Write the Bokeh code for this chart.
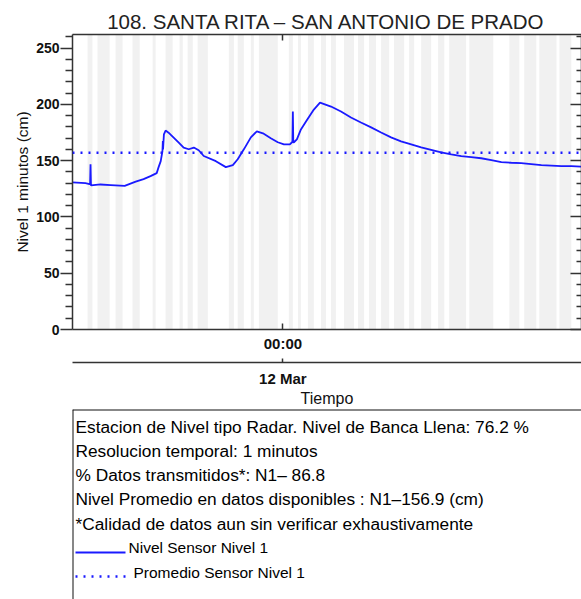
from bokeh.plotting import figure
from bokeh.models import Range1d, LinearAxis, FixedTicker, Span
from bokeh.layouts import column
from bokeh.embed import file_html
from bokeh.resources import INLINE
from bokeh.core.properties import value

# ---------------- data ----------------
title_text = "108. SANTA RITA \u2013 SAN ANTONIO DE PRADO"
y_label = "Nivel 1 minutos (cm)"
x_label = "Tiempo"

# hours relative to 12 Mar 00:00
hours = [-9.92, -9.31, -9.12, -9.09, -9.07, -9.05, -8.60, -8.12, -7.46, -6.94,
         -6.57, -6.24, -5.95, -5.86, -5.76, -5.68, -5.66, -5.65, -5.61, -5.53,
         -5.39, -5.15, -4.91, -4.68, -4.44, -4.20, -3.97, -3.73, -3.16, -2.69,
         -2.36, -2.13, -1.84, -1.51, -1.23, -0.94, -0.57, -0.24, 0.05, 0.33,
         0.43, 0.45, 0.47, 0.49, 0.52, 0.66, 0.85, 1.09, 1.46, 1.75,
         2.27, 2.74, 3.21, 3.68, 4.16, 4.63, 5.10, 5.57, 6.05, 6.52,
         6.99, 7.46, 7.94, 8.41, 8.88, 9.35, 9.83, 10.30, 10.77, 11.24,
         11.71, 12.19, 12.66, 13.13, 13.60, 14.08]
level = [130.7, 130.0, 129.2, 129.0, 146.8, 128.0, 128.8, 128.3, 127.6, 131.3,
         133.6, 136.2, 138.9, 144.2, 149.5, 158.3, 167.4, 160.0, 173.3, 176.7,
         174.8, 170.4, 166.0, 161.6, 160.1, 161.6, 159.2, 154.1, 149.5, 144.2,
         146.0, 151.2, 160.0, 170.6, 176.0, 174.2, 169.8, 166.3, 164.5, 164.5,
         166.3, 166.3, 193.6, 166.3, 166.3, 168.9, 177.7, 184.7, 195.3, 201.5,
         198.0, 193.6, 188.3, 183.9, 179.5, 175.0, 170.6, 167.1, 164.5, 161.8,
         159.6, 157.4, 155.6, 153.9, 153.0, 152.1, 150.4, 148.6, 148.1, 147.7,
         146.8, 145.9, 145.5, 145.1, 145.1, 144.6]
mean_level = 156.9

# periods without transmitted data (hours relative to 12 Mar 00:00)
gap_start = [-9.21, -8.74, -7.89, -7.09, -6.14, -5.53, -4.87, -4.49, -4.02, -2.55,
             -2.13, -1.51, -1.13, 0.28, 0.71, 1.18, 1.80, 2.27, 2.88, 3.54,
             4.06, 4.63, 5.24, 5.95, 6.52, 7.32, 7.84, 8.79, 10.68, 11.38,
             12.09, 13.04]
gap_end = [-8.98, -8.17, -7.56, -6.75, -6.00, -5.20, -4.72, -4.25, -3.54, -2.31,
           -1.84, -1.37, -0.24, 0.47, 0.85, 1.46, 2.03, 2.50, 3.35, 3.83,
           4.39, 5.01, 5.72, 6.19, 6.99, 7.61, 8.64, 9.92, 11.15, 11.95,
           12.90, 13.60]

x_start, x_end = -9.92, 14.08
y_start, y_end = 0, 262
y_ticks = [0, 50, 100, 150, 200, 250]
y_minor = [10, 20, 30, 40, 60, 70, 80, 90, 110, 120, 130, 140, 160, 170, 180,
           190, 210, 220, 230, 240, 260]
time_ticks = [0]
time_labels = ["00:00"]
date_labels = ["12 Mar"]

info_lines = [
    "Estacion de Nivel tipo Radar. Nivel de Banca Llena: 76.2 %",
    "Resolucion temporal: 1 minutos",
    "% Datos transmitidos*: N1\u2013 86.8",
    "Nivel Promedio en datos disponibles : N1\u2013156.9 (cm)",
    "*Calidad de datos aun sin verificar exhaustivamente",
]
legend_labels = ["Nivel Sensor Nivel 1", "Promedio Sensor Nivel 1"]

# ---------------- styling ----------------
FONT = "Liberation Sans"
BLUE = "#1a1aff"
AXC = "#333333"

p = figure(width=581, height=409, x_range=Range1d(x_start, x_end),
           y_range=Range1d(y_start, y_end), output_backend="svg",
           toolbar_location=None, x_axis_type=None, y_axis_type=None,
           min_border_left=72, min_border_right=0, min_border_top=34,
           min_border_bottom=77)
p.outline_line_color = None
p.background_fill_color = "white"
p.border_fill_color = "white"

p.title.text = title_text
p.title.align = "center"
p.title.text_font = FONT
p.title.text_font_size = "20.5px"
p.title.text_font_style = "normal"
p.title.text_color = "#222222"
p.title.standoff = 4

# data gaps
p.quad(left=gap_start, right=gap_end, bottom=y_start, top=y_end,
       fill_color="#f1f1f1", line_color=None)

# series
p.line(hours, level, line_color=BLUE, line_width=1.8)
p.add_layout(Span(location=mean_level, dimension="width", line_color=BLUE,
                  line_width=2.5, line_dash="2 6"))

yt = FixedTicker(ticks=y_ticks, minor_ticks=y_minor)
xt = FixedTicker(ticks=time_ticks, minor_ticks=[])


def style(ax):
    ax.axis_line_color = AXC
    ax.axis_line_width = 1.5
    ax.major_tick_line_color = AXC
    ax.minor_tick_line_color = AXC
    ax.major_tick_line_width = 1.5
    ax.minor_tick_line_width = 1.5
    ax.major_label_text_font = FONT
    ax.axis_label_text_font = FONT
    ax.major_label_text_color = "#111111"
    ax.axis_label_text_color = "#111111"


yax = LinearAxis(ticker=yt)
style(yax)
yax.axis_label = y_label
yax.axis_label_text_font_size = "15.5px"
yax.axis_label_text_font_style = "normal"
yax.major_label_text_font_size = "14px"
yax.major_label_text_font_style = "bold"
yax.major_tick_out = 12
yax.major_tick_in = 0
yax.minor_tick_out = 7
yax.minor_tick_in = 0
yax.major_label_standoff = 1
yax.axis_label_standoff = 2
p.add_layout(yax, "left")

rax = LinearAxis(ticker=yt)
style(rax)
rax.major_tick_out = 0
rax.major_tick_in = 11
rax.minor_tick_out = 0
rax.minor_tick_in = 5
rax.major_label_overrides = {t: "" for t in y_ticks}
rax.major_label_text_font_size = "0px"
rax.major_label_standoff = 0
p.add_layout(rax, "right")

tax = LinearAxis(ticker=xt)
style(tax)
tax.major_tick_out = 0
tax.major_tick_in = 6
tax.major_label_overrides = {t: "" for t in time_ticks}
tax.major_label_text_font_size = "0px"
tax.major_label_standoff = 0
p.add_layout(tax, "above")

bax = LinearAxis(ticker=xt)
style(bax)
bax.major_tick_out = 0
bax.major_tick_in = 6
bax.major_label_overrides = dict(zip(time_ticks, time_labels))
bax.major_label_text_font_size = "15px"
bax.major_label_text_font_style = "bold"
bax.major_label_standoff = 5
bax.axis_label = " "
bax.axis_label_text_font_size = "4px"
bax.axis_label_standoff = 0
p.add_layout(bax, "below")

dax = LinearAxis(ticker=xt)
style(dax)
dax.major_tick_out = 0
dax.major_tick_in = 4
dax.major_label_overrides = dict(zip(time_ticks, date_labels))
dax.major_label_text_font_size = "15px"
dax.major_label_text_font_style = "bold"
dax.major_label_standoff = 7
dax.axis_label = x_label
dax.axis_label_text_font_size = "16px"
dax.axis_label_text_font_style = "normal"
dax.axis_label_standoff = 0
p.add_layout(dax, "below")

# ---------------- info box ----------------
q = figure(width=581, height=190, x_range=Range1d(0, 509), y_range=Range1d(190, 0),
           output_backend="svg", toolbar_location=None, x_axis_type=None,
           y_axis_type=None, min_border_left=72, min_border_right=0,
           min_border_top=0, min_border_bottom=0)
q.outline_line_color = None
q.background_fill_color = "white"
q.border_fill_color = "white"
q.add_layout(Span(location=0, dimension="height", line_color="#111111", line_width=2))
q.add_layout(Span(location=0, dimension="width", line_color="#111111", line_width=2))

q.text(x=[3] * len(info_lines), y=[17, 41, 65, 89, 114], text=info_lines,
       text_font=value(FONT), text_font_size="17.3px", text_baseline="middle",
       text_color="black")
q.line([3, 53], [143, 143], line_color=BLUE, line_width=1.8)
q.line([3, 53], [167, 167], line_color=BLUE, line_width=2.5, line_dash="2 6")
q.text(x=[56, 61], y=[138, 163], text=legend_labels, text_font=value(FONT),
       text_font_size="15.5px", text_baseline="middle", text_color="black")

layout = column(p, q, spacing=0)
open("out.html", "w").write(file_html(layout, INLINE))
